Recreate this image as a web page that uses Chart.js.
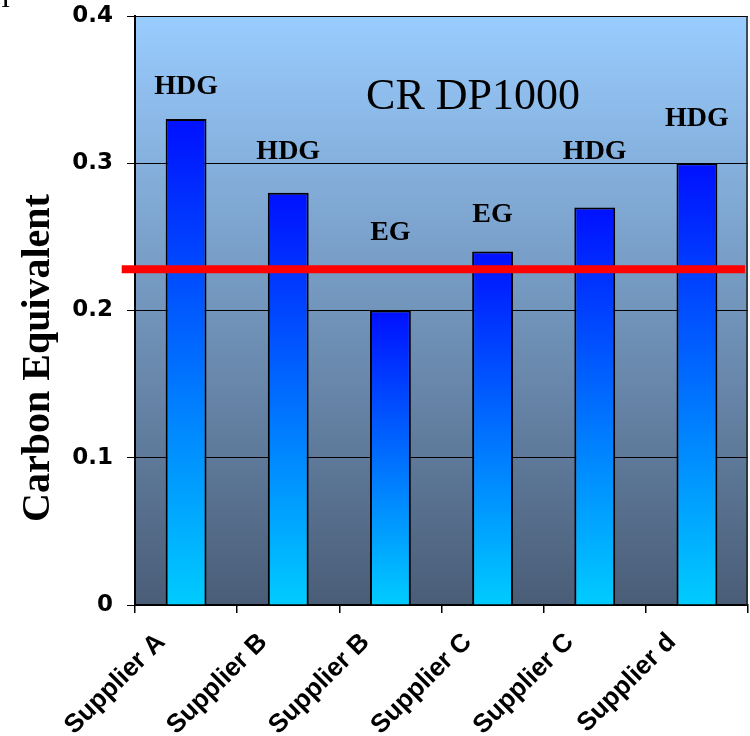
<!DOCTYPE html>
<html>
<head>
<meta charset="utf-8">
<script src="https://cdn.jsdelivr.net/npm/chart.js@4.4.1/dist/chart.umd.min.js"></script>
<style>
  body { margin: 0; background: #fff; }
  #wrap { width: 750px; height: 736px; position: relative; }
</style>
</head>
<body>
<div id="wrap"><canvas id="ceChart"></canvas></div>
<script>
const suppliers = ['Supplier A', 'Supplier B', 'Supplier B', 'Supplier C', 'Supplier C', 'Supplier d'];
const carbonEq = [0.33, 0.28, 0.20, 0.24, 0.27, 0.30];
const coatings = ['HDG', 'HDG', 'EG', 'EG', 'HDG', 'HDG'];
const coatingLabelY = [0.352, 0.308, 0.253, 0.265, 0.308, 0.330]; // where the coating notes sit, in CE units
const ceLimit = 0.228;
const limitSpan = [-0.13, 5.97]; // red line runs a little past the axis on the left
const yTicks = [0, 0.1, 0.2, 0.3, 0.4];

const chartTitle = 'CR DP1000';
const yTitle = 'Carbon Equivalent';

function barGradient(context) {
  const chart = context.chart;
  const y = chart.scales.y;
  if (!y || context.raw == null) return '#0066ff';
  const top = y.getPixelForValue(context.raw);
  const bottom = y.getPixelForValue(0);
  if (!isFinite(top) || !isFinite(bottom)) return '#0066ff';
  const g = chart.ctx.createLinearGradient(0, top, 0, bottom);
  g.addColorStop(0, '#0010ff');
  g.addColorStop(1, '#00ccff');
  return g;
}

// plot background, frame, title, coating notes, y title
const decorations = {
  id: 'decorations',
  beforeDraw(chart) {
    const { ctx, chartArea: a } = chart;
    const g = ctx.createLinearGradient(0, a.top, 0, a.bottom);
    g.addColorStop(0, '#99ccff');
    g.addColorStop(1, '#4a5d77');
    ctx.save();
    ctx.fillStyle = g;
    ctx.fillRect(a.left, a.top, a.right - a.left, a.bottom - a.top);
    ctx.restore();
  },
  afterDatasetsDraw(chart) {
    const { ctx, chartArea: a, scales } = chart;
    ctx.save();
    ctx.strokeStyle = '#222';
    ctx.lineWidth = 1.5;
    ctx.beginPath();
    ctx.moveTo(a.right - 1, a.top);
    ctx.lineTo(a.right - 1, a.bottom);
    ctx.stroke();

    ctx.fillStyle = '#000';
    ctx.textAlign = 'center';
    ctx.textBaseline = 'middle';
    ctx.font = 'bold 28px "Liberation Serif", "Times New Roman", serif';
    coatings.forEach((c, i) => {
      ctx.fillText(c, scales.x.getPixelForValue(i), scales.y.getPixelForValue(coatingLabelY[i]));
    });

    ctx.font = '44px "Liberation Serif", "Times New Roman", serif';
    ctx.fillText(chartTitle, a.left + 338, a.top + 81);

    ctx.font = 'bold 40px "Liberation Serif", "Times New Roman", serif';
    ctx.textBaseline = 'alphabetic';
    ctx.translate(49, 358);
    ctx.rotate(-Math.PI / 2);
    ctx.fillText(yTitle, 0, 0);
    ctx.restore();

    ctx.save();
    ctx.font = '28px "Liberation Serif", serif';
    ctx.fillStyle = '#000';
    ctx.fillText('I', 1, 7);
    ctx.restore();
  }
};

new Chart(document.getElementById('ceChart'), {
  data: {
    labels: suppliers,
    datasets: [
      {
        type: 'line',
        data: limitSpan.map(x => ({ x: x, y: ceLimit })),
        xAxisID: 'xLine',
        borderColor: '#ff0000',
        borderWidth: 8,
        pointRadius: 0,
        clip: false,
        order: 0
      },
      {
        type: 'bar',
        data: carbonEq,
        xAxisID: 'x',
        grouped: false,
        backgroundColor: barGradient,
        borderColor: '#000',
        borderWidth: 2,
        barPercentage: 0.4,
        categoryPercentage: 1,
        order: 1
      }
    ]
  },
  options: {
    responsive: true,
    maintainAspectRatio: false,
    animation: false,
    layout: { padding: { top: 16, right: 2, left: 0, bottom: 0 } },
    plugins: { legend: { display: false }, tooltip: { enabled: false } },
    scales: {
      x: {
        type: 'category',
        offset: true,
        grid: { offset: true, drawOnChartArea: false, drawTicks: true, tickLength: 8, color: '#000', lineWidth: 1.5 },
        border: { display: true, color: '#000', width: 2 },
        ticks: {
          color: '#000',
          maxRotation: 45,
          minRotation: 45,
          labelOffset: -25,
          padding: 14,
          autoSkip: false,
          font: { family: '"Liberation Sans", Arial, sans-serif', size: 26, weight: 'bold' }
        },
        afterFit(scale) { scale.height = 131; }
      },
      xLine: {
        type: 'linear',
        display: false,
        min: 0,
        max: 6
      },
      y: {
        min: 0,
        max: 0.4,
        afterBuildTicks(scale) { scale.ticks = yTicks.map(v => ({ value: v })); },
        grid: { color: '#000', lineWidth: 1, tickLength: 8 },
        border: { display: true, color: '#000', width: 2 },
        ticks: {
          color: '#000',
          padding: 14,
          callback: v => String(v),
          font: { family: '"DejaVu Sans", Verdana, sans-serif', size: 23, weight: 'bold' }
        },
        afterFit(scale) {
          scale.width = 135;
          scale.paddingTop = 0;
          scale.paddingBottom = 0;
        }
      }
    }
  },
  plugins: [decorations]
});
</script>
</body>
</html>
